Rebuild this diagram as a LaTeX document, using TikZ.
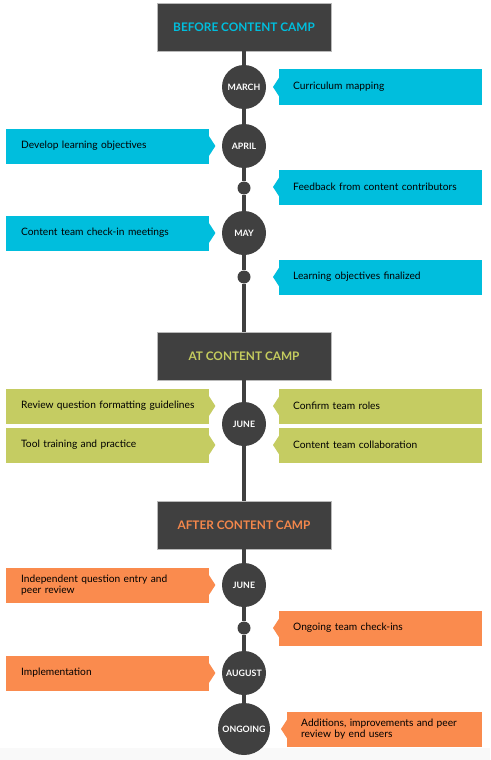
\documentclass[tikz,border=0pt]{standalone}
\usepackage{fontspec}
\setmainfont{Lato}
\definecolor{dk}{HTML}{404040}
\definecolor{cy}{HTML}{00BEDD}
\definecolor{gr}{HTML}{C5CC62}
\definecolor{og}{HTML}{FA8B4E}
\definecolor{hgr}{HTML}{C5CC5E}
\definecolor{hog}{HTML}{F4874B}
\begin{document}
\begin{tikzpicture}[x=1pt,y=-1pt,
  hdr/.style={fill=dk, draw=gray!55, line width=0.6pt, minimum width=174pt, minimum height=48pt, inner sep=0pt, font=\bfseries\fontsize{11.8}{13}\selectfont},
  mon/.style={circle, fill=dk, minimum size=44pt, inner sep=0pt, text=white, font=\bfseries\fontsize{8.8}{10}\selectfont},
  bigmon/.style={mon, minimum size=52pt},
  tdot/.style={circle, fill=dk, minimum size=13pt, inner sep=0pt},
  spine/.style={draw=dk, line width=4.5pt},
  rbox/.style={fill=#1, minimum height=35pt, text width=175pt, inner xsep=14pt, align=left, anchor=west, font=\fontsize{10.2}{10.5}\selectfont},
  lbox/.style={fill=#1, minimum height=35pt, text width=173pt, inner xsep=15pt, align=left, anchor=west, font=\fontsize{10.2}{10.5}\selectfont}
]
\useasboundingbox (0,0) rectangle (490,760);
\fill[white] (0,0) rectangle (490,760);
\fill[gray!5] (0,748) rectangle (490,760);

% nodes on spine
\node[hdr, text=cy] (h1) at (244,27) {BEFORE CONTENT CAMP};
\node[mon] (march) at (244,87) {MARCH};
\node[mon] (april) at (244,146) {APRIL};
\node[tdot] (d1) at (244,188) {};
\node[mon] (may) at (244,233) {MAY};
\node[tdot] (d2) at (244,277) {};
\node[hdr, text=hgr] (h2) at (244,356) {AT CONTENT CAMP};
\node[mon] (june1) at (244,424) {JUNE};
\node[hdr, text=hog] (h3) at (244,525) {AFTER CONTENT CAMP};
\node[mon] (june2) at (244,585) {JUNE};
\node[tdot] (d3) at (244,628) {};
\node[mon] (aug) at (244,673) {AUGUST};
\node[bigmon] (ong) at (244,729) {ONGOING};

% spine segments
\draw[spine] (h1.south) -- (march.north);
\draw[spine] (march.south) -- (april.north);
\draw[spine] (april.south) -- (d1.north);
\draw[spine] (d1.south) -- (may.north);
\draw[spine] (may.south) -- (d2.north);
\draw[spine] (d2.south) -- (h2.north);
\draw[spine] (h2.south) -- (june1.north);
\draw[spine] (june1.south) -- (h3.north);
\draw[spine] (h3.south) -- (june2.north);
\draw[spine] (june2.south) -- (d3.north);
\draw[spine] (d3.south) -- (aug.north);
\draw[spine] (aug.south) -- (ong.north);

% right callouts
\node[rbox=cy] (r1) at (279,87) {Curriculum mapping};
\node[rbox=cy] (r2) at (279,187) {Feedback from content contributors};
\node[rbox=cy] (r3) at (279,277) {Learning objectives finalized};
\node[rbox=gr] (r4) at (279,406) {Confirm team roles};
\node[rbox=gr] (r5) at (279,445) {Content team collaboration};
\node[rbox=og] (r6) at (279,628) {Ongoing team check-ins};
\node[rbox=og, text width=167pt] (r7) at (287,729) {Additions, improvements and peer\\review by end users};

% left callouts
\node[lbox=cy] (l1) at (6,146) {Develop learning objectives};
\node[lbox=cy] (l2) at (6,233) {Content team check-in meetings};
\node[lbox=gr] (l3) at (6,406) {\mbox{Review question formatting guidelines}};
\node[lbox=gr] (l4) at (6,445) {Tool training and practice};
\node[lbox=og] (l5) at (6,585) {Independent question entry and\\peer review};
\node[lbox=og] (l6) at (6,673) {Implementation};

% pointers
\foreach \n/\c in {r1/cy,r2/cy,r3/cy,r4/gr,r5/gr,r6/og,r7/og}
  \fill[\c] (\n.west) ++(0.5,-10) -- ++(-6.5,10) -- ++(6.5,10) -- cycle;
\foreach \n/\c in {l1/cy,l2/cy,l3/gr,l4/gr,l5/og,l6/og}
  \fill[\c] (\n.east) ++(-0.5,-10) -- ++(6.5,10) -- ++(-6.5,10) -- cycle;
\end{tikzpicture}
\end{document}
